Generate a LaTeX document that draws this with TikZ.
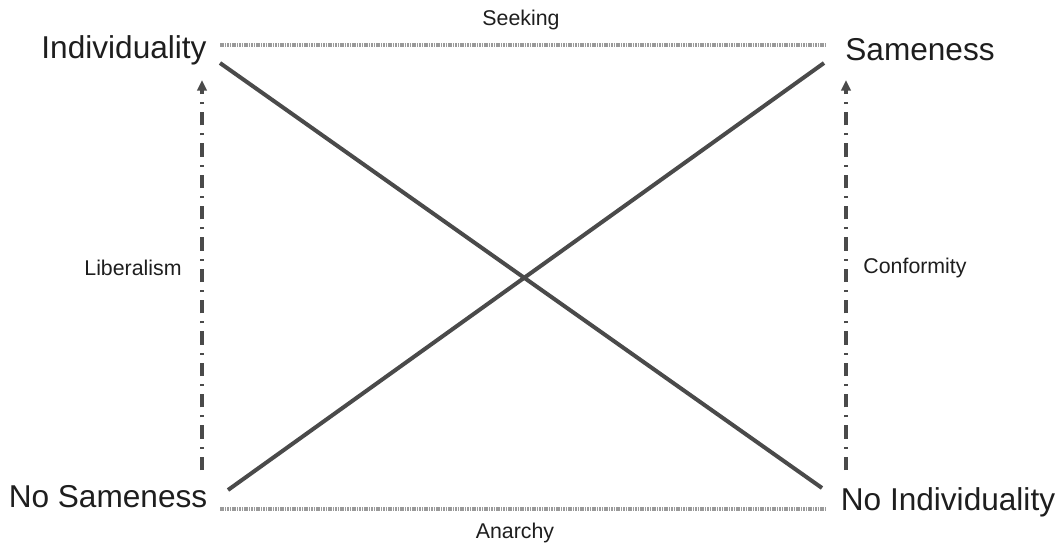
\documentclass[tikz,border=0pt]{standalone}
\usepackage{fontspec}
\setmainfont{Liberation Sans}
\usetikzlibrary{arrows.meta,positioning}
\definecolor{Ink}{HTML}{1E1E1E}
\definecolor{Slate}{HTML}{4A4A4A}
\definecolor{Ash}{HTML}{9A9A9A}

\tikzset{
  pole/.style={text=Ink,font=\fontsize{23.7}{28}\selectfont,inner sep=0pt},
  tag/.style={text=Ink,font=\fontsize{16}{19}\selectfont,inner sep=0pt},
  cross/.style={draw=Slate,line width=3pt},
  rail/.style={draw=Ash,line width=3.2pt,dash pattern=on 1.2pt off 0.6pt},
  drift/.style={draw=Slate,line width=2.4pt,dash pattern=on 10pt off 6pt on 1.5pt off 6pt,
    -{Triangle[length=8pt,width=7pt]}}
}

\begin{document}
\begin{tikzpicture}[x=0.75pt,y=-0.75pt]
    \useasboundingbox[fill=white] (0,0) rectangle (1062,546);

    \node[pole] (indiv) at (124,50) {Individuality};
    \node[pole] (same) at (920,50) {Sameness};
    \node[pole] (nosame) at (108,497) {No Sameness};
    \node[pole] (noindiv) at (948,502) {No Individuality};

    \node[tag] (seek) at (521,20) {Seeking};
    \node[tag] (anarchy) at (515,533) {Anarchy};
    \node[tag] (liberal) at (133,268) {Liberalism};
    \node[tag] (conform) at (915,268) {Conformity};

    \coordinate (topL) at (220,45);
    \coordinate (topR) at (826,45);
    \coordinate (botL) at (220,509);
    \coordinate (botR) at (826,509);
    \draw[rail] (topL) -- (topR);
    \draw[rail] (botL) -- (botR);

    \coordinate (diagA) at (220,63);
    \coordinate (diagB) at (822,488);
    \coordinate (diagC) at (228,490);
    \coordinate (diagD) at (824,63);
    \draw[cross] (diagA) -- (diagB);
    \draw[cross] (diagC) -- (diagD);

    \coordinate (libLo) at (202,470);
    \coordinate (libHi) at (202,80);
    \coordinate (conLo) at (846,470);
    \coordinate (conHi) at (846,80);
    \draw[drift] (libLo) -- (libHi);
    \draw[drift] (conLo) -- (conHi);
  \end{tikzpicture}
\end{document}
